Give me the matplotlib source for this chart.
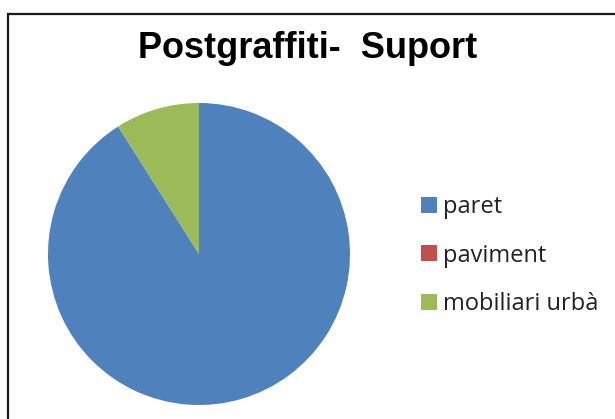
import matplotlib.pyplot as plt
from matplotlib.patches import Rectangle

# suport on s'ha trobat el postgraffiti (%)
categories = ["paret", "paviment", "mobiliari urbà"]
values = [91, 0, 9]
colors = ["#4F81BD", "#C0504D", "#9BBB59"]

W, H = 615, 419
fig = plt.figure(figsize=(W / 100, H / 100), dpi=100)

# marc del grafic
fig.patches.append(Rectangle((8 / W, -0.1), 1.0, 1 - 14 / H + 0.1,
                             transform=fig.transFigure, fill=False,
                             edgecolor="#1a1a1a", linewidth=1.6))

fig.text(308 / W, 1 - 58 / H, "Postgraffiti-  Suport", ha="center", va="baseline",
         fontsize=26, fontweight="bold", family="Liberation Sans")

ax = fig.add_axes([48 / W, 14 / H, 302 / W, 302 / H])
wedges, _ = ax.pie(values, colors=colors, startangle=90, counterclock=False,
                   radius=1.0, wedgeprops=dict(linewidth=0))
ax.set_xlim(-1, 1)
ax.set_ylim(-1, 1)
ax.set_aspect("equal")
ax.axis("off")

leg = fig.legend(wedges, categories, loc="upper left",
                 bbox_to_anchor=(421 / W, 1 - 195 / H), frameon=False,
                 prop={"family": "Open Sans", "size": 17},
                 labelcolor="#222222",
                 borderpad=0, borderaxespad=0,
                 handlelength=0.68, handleheight=0.68, handletextpad=0.25,
                 labelspacing=1.04)

fig.savefig("out.png", dpi=100)
